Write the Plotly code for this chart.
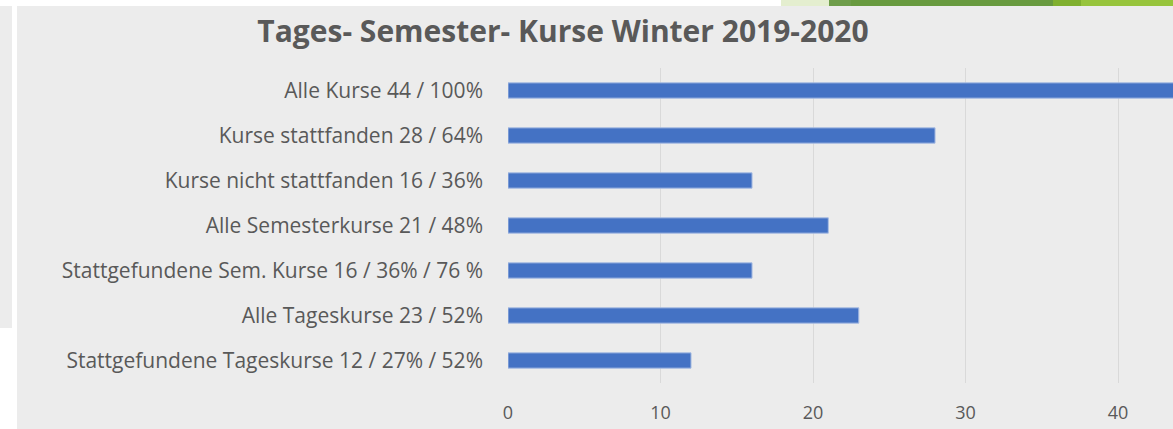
import plotly.graph_objects as go

categories = [
    "Alle Kurse 44 / 100%",
    "Kurse stattfanden 28 / 64%",
    "Kurse nicht stattfanden 16 / 36%",
    "Alle Semesterkurse 21 / 48%",
    "Stattgefundene Sem. Kurse 16 / 36% / 76 %",
    "Alle Tageskurse 23 / 52%",
    "Stattgefundene Tageskurse 12 / 27% / 52%",
]
values = [44, 28, 16, 21, 16, 23, 12]
x_ticks = [0, 10, 20, 30, 40]

W, H = 1173, 429
L, T, B = 508, 68, 46
PW, PH = W - L, H - T - B


def px(x):
    return (x - L) / PW


def py(y):
    return (H - B - y) / PH


GRAY = "#ececec"
TXT = "#595959"

fig = go.Figure(
    go.Bar(
        x=values,
        y=categories,
        orientation="h",
        marker=dict(color="#4472c4", line=dict(color="#a9bde3", width=1)),
        hoverinfo="x+y",
    )
)

shapes = []
for x0, y0, x1, y1, c in [
    (0, 0, W, 6, "white"),
    (12, 6, 17, H, "white"),
    (0, 328, 12, H, "white"),
    (781, 0, 829, 6, "#e4eecf"),
    (829, 0, 851, 6, "#6e9d4a"),
    (851, 0, 1053, 6, "#689a3f"),
    (1053, 0, 1081, 6, "#80b02f"),
    (1081, 0, W, 6, "#97c43c"),
]:
    shapes.append(
        dict(
            type="rect", xref="paper", yref="paper",
            x0=px(x0), x1=px(x1), y0=py(y1), y1=py(y0),
            fillcolor=c, line=dict(width=0), layer="below",
        )
    )

fig.update_layout(
    width=W,
    height=H,
    margin=dict(l=L, r=0, t=T, b=B, pad=0),
    paper_bgcolor=GRAY,
    plot_bgcolor="rgba(0,0,0,0)",
    bargap=0.66,
    showlegend=False,
    shapes=shapes,
    font=dict(family="Open Sans", color=TXT, size=17),
    title=dict(
        text="<b>Tages- Semester- Kurse Winter 2019-2020</b>",
        xref="container", yref="container",
        x=563 / W, xanchor="center",
        y=1 - 31 / H, yanchor="middle",
        font=dict(family="Open Sans", size=30, color=TXT),
    ),
    xaxis=dict(
        range=[0, 43.6],
        tickvals=x_ticks,
        showgrid=True,
        gridcolor="#d9d9d9",
        gridwidth=1,
        zeroline=False,
        showline=False,
        ticks="",
        ticklabelstandoff=17,
        tickfont=dict(size=18, color=TXT),
        fixedrange=True,
    ),
    yaxis=dict(
        autorange="reversed",
        showgrid=False,
        zeroline=False,
        showline=False,
        ticks="",
        ticklabelstandoff=24,
        tickfont=dict(size=21, color=TXT),
        fixedrange=True,
    ),
)

fig.write_html(
    "out.html",
    config={"displayModeBar": False},
    post_script="document.body.style.margin='0';document.body.style.overflow='hidden';",
)
